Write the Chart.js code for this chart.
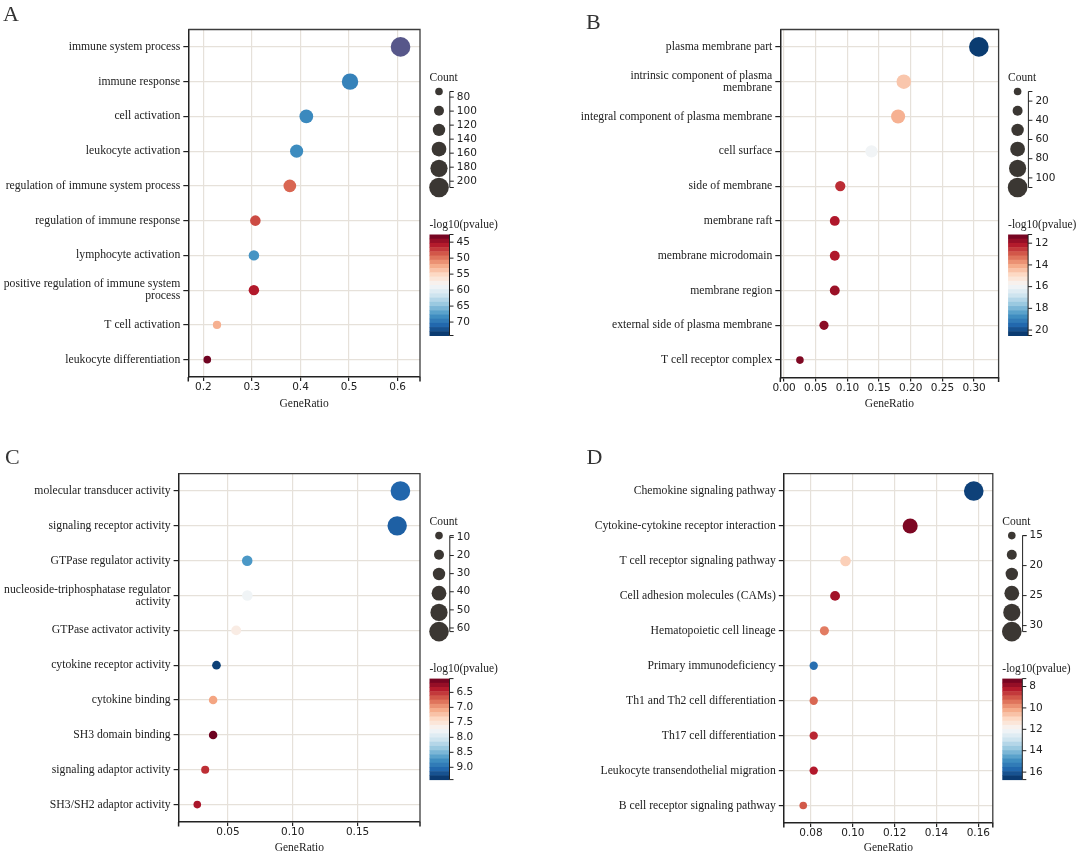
<!DOCTYPE html>
<html><head><meta charset="utf-8">
<script src="https://cdn.jsdelivr.net/npm/chart.js@4.4.0/dist/chart.umd.min.js"></script>
<style>
html,body{margin:0;padding:0;background:#fff;width:1080px;height:855px;overflow:hidden;position:relative}
.p{position:absolute;width:540px}
canvas{display:block}
</style></head><body>
<div class="p" style="left:0;top:0"><canvas id="cA" width="540" height="428"></canvas></div>
<div class="p" style="left:540px;top:0"><canvas id="cB" width="540" height="428"></canvas></div>
<div class="p" style="left:0;top:428px"><canvas id="cC" width="540" height="432"></canvas></div>
<div class="p" style="left:540px;top:428px"><canvas id="cD" width="540" height="432"></canvas></div>
<script>
// ---------------- DATA ----------------
// Panel A
const termsA = ['immune system process','immune response','cell activation','leukocyte activation','regulation of immune system process','regulation of immune response','lymphocyte activation',['positive regulation of immune system','process'],'T cell activation','leukocyte differentiation'];
const ratioA = [0.606,0.502,0.412,0.392,0.378,0.307,0.304,0.304,0.228,0.208];
const countA = [209,173,142,135,130,106,105,105,79,72];
const logpA  = [76.0,69.1,68.6,68.4,49.2,48.0,67.8,45.8,52.7,43.0];
const xTicksA = [0.2,0.3,0.4,0.5,0.6];
const xTickLabelsA = ['0.2','0.3','0.4','0.5','0.6'];
const countTicksA = [80,100,120,140,160,180,200];
const colorTicksA = [45,50,55,60,65,70];
const colorTickLabelsA = ['45','50','55','60','65','70'];

// Panel B
const termsB = ['plasma membrane part',['intrinsic component of plasma','membrane'],'integral component of plasma membrane','cell surface','side of membrane','membrane raft','membrane microdomain','membrane region','external side of plasma membrane','T cell receptor complex'];
const ratioB = [0.3075,0.189,0.180,0.138,0.0887,0.080,0.080,0.080,0.063,0.025];
const countB = [110,68,64,49,32,29,29,29,23,10];
const logpB  = [20.3,14.55,14.2,16.0,12.4,12.1,12.1,11.85,11.65,11.5];
const xTicksB = [0,0.05,0.10,0.15,0.20,0.25,0.30];
const xTickLabelsB = ['0.00','0.05','0.10','0.15','0.20','0.25','0.30'];
const countTicksB = [20,40,60,80,100];
const colorTicksB = [12,14,16,18,20];
const colorTickLabelsB = ['12','14','16','18','20'];

// Panel C
const termsC = ['molecular transducer activity','signaling receptor activity','GTPase regulator activity',['nucleoside-triphosphatase regulator','activity'],'GTPase activator activity','cytokine receptor activity','cytokine binding','SH3 domain binding','signaling adaptor activity','SH3/SH2 adaptor activity'];
const ratioC = [0.183,0.1805,0.0649,0.065,0.0564,0.0412,0.0386,0.0386,0.0325,0.0264];
const countC = [62,61,22,22,19,14,13,13,11,9];
const logpC  = [9.07,9.11,8.70,7.79,7.59,9.31,7.05,6.07,6.48,6.34];
const xTicksC = [0.05,0.10,0.15];
const xTickLabelsC = ['0.05','0.10','0.15'];
const countTicksC = [10,20,30,40,50,60];
const colorTicksC = [6.5,7.0,7.5,8.0,8.5,9.0];
const colorTickLabelsC = ['6.5','7.0','7.5','8.0','8.5','9.0'];

// Panel D
const termsD = ['Chemokine signaling pathway','Cytokine-cytokine receptor interaction','T cell receptor signaling pathway','Cell adhesion molecules (CAMs)','Hematopoietic cell lineage','Primary immunodeficiency','Th1 and Th2 cell differentiation','Th17 cell differentiation','Leukocyte transendothelial migration','B cell receptor signaling pathway'];
const ratioD = [0.1578,0.1274,0.0965,0.0915,0.0864,0.0813,0.0813,0.0813,0.0813,0.0763];
const countD = [31,25,19,18,17,16,16,16,16,15];
const logpD  = [16.4,7.54,10.85,8.0,9.53,15.57,9.24,8.39,8.2,9.05];
const xTicksD = [0.08,0.10,0.12,0.14,0.16];
const xTickLabelsD = ['0.08','0.10','0.12','0.14','0.16'];
const countTicksD = [15,20,25,30];
const colorTicksD = [8,10,12,14,16];
const colorTickLabelsD = ['8','10','12','14','16'];

// ---------------- COLOUR / SIZE SCALES ----------------
const RDBU = ['#67001f','#b2182b','#d6604d','#f4a582','#fddbc7','#f7f7f7','#d1e5f0','#92c5de','#4393c3','#2166ac','#053061'];
function hx(h){return [parseInt(h.substr(1,2),16),parseInt(h.substr(3,2),16),parseInt(h.substr(5,2),16)];}
function rdbu(t){
  t=Math.max(0,Math.min(1,t));
  const s=t*10, i=Math.min(9,Math.floor(s)), f=s-i;
  const a=hx(RDBU[i]), b=hx(RDBU[i+1]);
  const c=a.map((v,k)=>Math.round(v+(b[k]-v)*f));
  return 'rgb('+c.join(',')+')';
}
const R_MIN=3.8, R_MAX=9.8;

const panels = {
  A:{id:'cA', letter:'A', terms:termsA, ratio:ratioA, count:countA, logp:logpA, xTicks:xTicksA, xTickLabels:xTickLabelsA,
     countTicks:countTicksA, colorTicks:colorTicksA, colorTickLabels:colorTickLabelsA,
     xRange:[0.1689,0.6461], countDomain:[72,209], colorDomain:[42.6,74.2], overColor:'#57578a'},
  B:{id:'cB', letter:'B', terms:termsB, ratio:ratioB, count:countB, logp:logpB, xTicks:xTicksB, xTickLabels:xTickLabelsB,
     countTicks:countTicksB, colorTicks:colorTicksB, colorTickLabels:colorTickLabelsB,
     xRange:[-0.006,0.3387], countDomain:[10,110], colorDomain:[11.2,20.5]},
  C:{id:'cC', letter:'C', terms:termsC, ratio:ratioC, count:countC, logp:logpC, xTicks:xTicksC, xTickLabels:xTickLabelsC,
     countTicks:countTicksC, colorTicks:colorTicksC, colorTickLabels:colorTickLabelsC,
     xRange:[0.012,0.1981], countDomain:[9,62], colorDomain:[6.04,9.41]},
  D:{id:'cD', letter:'D', terms:termsD, ratio:ratioD, count:countD, logp:logpD, xTicks:xTicksD, xTickLabels:xTickLabelsD,
     countTicks:countTicksD, colorTicks:colorTicksD, colorTickLabels:colorTickLabelsD,
     xRange:[0.067,0.1669], countDomain:[15,31], colorDomain:[7.26,16.7]}
};
// layout (canvas-relative pixels)
const LAYOUT = {
  A:{W:540,H:428,left:188.3,right:420,top:29.5,bottom:377,titleY:404,letterX:3,letterY:20.5},
  B:{W:540,H:428,left:240.3,right:458.6,top:29.5,bottom:377.5,titleY:404,letterX:46,letterY:28.5},
  C:{W:540,H:432,left:178.6,right:420,top:45.6,bottom:394,titleY:419.5,letterX:5,letterY:35.6},
  D:{W:540,H:432,left:243.8,right:452.8,top:45.6,bottom:395,titleY:419.5,letterX:46.6,letterY:35.6}
};

function sizeFor(c,P){const [a,b]=P.countDomain;return R_MIN+(c-a)/(b-a)*(R_MAX-R_MIN);}
function colorFor(v,P){const [a,b]=P.colorDomain; if(v>b && P.overColor) return P.overColor; return rdbu((v-a)/(b-a));}

const GRID='#e6e1da';
const SERIF='"Liberation Serif", "Times New Roman", serif';
const SANS='"DejaVu Sans", sans-serif';

function decor(P,L){
  return {id:'decor'+P.letter, afterDraw(chart){
    const ctx=chart.ctx, a=chart.chartArea;
    ctx.save();
    // top / right frame
    ctx.strokeStyle='#3c3c3c'; ctx.lineWidth=1.3;
    ctx.beginPath(); ctx.moveTo(a.left,a.top); ctx.lineTo(a.right,a.top); ctx.lineTo(a.right,a.bottom); ctx.stroke();
    // bottom axis end caps
    ctx.strokeStyle='#222'; ctx.lineWidth=1.5;
    [a.left,a.right].forEach(x=>{ctx.beginPath();ctx.moveTo(x,a.bottom);ctx.lineTo(x,a.bottom+4.5);ctx.stroke();});
    // panel letter
    ctx.fillStyle='#333'; ctx.font='22px '+SERIF; ctx.textAlign='left'; ctx.textBaseline='alphabetic';
    ctx.fillText(P.letter,L.letterX,L.letterY);

    // ---- Count legend ----
    const ax=a.right+29.8, cy0=a.top+62, cy1=a.top+158;
    const [cmin,cmax]=P.countDomain;
    const yC=c=>cy0+(c-cmin)/(cmax-cmin)*(cy1-cy0);
    ctx.fillStyle='#222'; ctx.font='11.5px '+SERIF; ctx.textBaseline='middle';
    ctx.fillText('Count',a.right+9.5,a.top+48);
    ctx.fillStyle='#3b3733';
    for(let i=0;i<6;i++){
      const c=cmin+i*(cmax-cmin)/5;
      ctx.beginPath(); ctx.arc(a.right+19,yC(c),sizeFor(c,P),0,Math.PI*2); ctx.fill();
    }
    ctx.strokeStyle='#222'; ctx.lineWidth=1;
    ctx.beginPath(); ctx.moveTo(ax+4,cy0); ctx.lineTo(ax,cy0); ctx.lineTo(ax,cy1); ctx.lineTo(ax+4,cy1); ctx.stroke();
    ctx.font='10.5px '+SANS; ctx.fillStyle='#222';
    P.countTicks.forEach(v=>{const y=yC(v); ctx.beginPath(); ctx.moveTo(ax,y); ctx.lineTo(ax+4,y); ctx.stroke(); ctx.fillText(String(v),ax+7,y);});

    // ---- Colour bar ----
    const bx0=a.right+9.5, bx1=a.right+29.5, by0=a.top+205, by1=a.top+306, N=24;
    ctx.font='11.5px '+SERIF; ctx.fillStyle='#222';
    ctx.fillText('-log10(pvalue)',bx0,a.top+195);
    for(let k=0;k<N;k++){
      ctx.fillStyle=rdbu((k+0.5)/N);
      const y0=by0+(by1-by0)*k/N, y1=by0+(by1-by0)*(k+1)/N;
      ctx.fillRect(bx0,y0,bx1-bx0,y1-y0+0.5);
    }
    const [vmin,vmax]=P.colorDomain;
    const yV=v=>by0+(v-vmin)/(vmax-vmin)*(by1-by0);
    ctx.strokeStyle='#222'; ctx.lineWidth=1;
    ctx.beginPath(); ctx.moveTo(bx1,by0); ctx.lineTo(bx1+4,by0); ctx.moveTo(bx1,by0); ctx.lineTo(bx1,by1); ctx.lineTo(bx1+4,by1); ctx.stroke();
    ctx.font='10.5px '+SANS; ctx.fillStyle='#222';
    P.colorTicks.forEach((v,i)=>{const y=yV(v); ctx.beginPath(); ctx.moveTo(bx1,y); ctx.lineTo(bx1+4,y); ctx.stroke(); ctx.fillText(P.colorTickLabels[i],bx1+7,y);});
    ctx.restore();
  }};
}

function build(key){
  const P=panels[key], L=LAYOUT[key];
  const data=P.terms.map((t,i)=>({x:P.ratio[i], y:i, r:sizeFor(P.count[i],P)}));
  const colors=P.logp.map(v=>colorFor(v,P));
  const titlePad=L.H-L.titleY-11.5*1.2/2;
  new Chart(document.getElementById(P.id),{
    type:'bubble',
    data:{labels:P.terms, datasets:[{data, backgroundColor:colors, borderWidth:0, hoverBorderWidth:0, hoverRadius:0, clip:false}]},
    options:{
      responsive:false, animation:false, devicePixelRatio:1, events:[],
      layout:{padding:{left:0,top:L.top,right:L.W-L.right,bottom:0}},
      plugins:{legend:{display:false}, tooltip:{enabled:false}},
      scales:{
        x:{type:'linear', position:'bottom', min:P.xRange[0], max:P.xRange[1],
           afterBuildTicks:s=>{s.ticks=P.xTicks.map(v=>({value:v}));},
           ticks:{callback:(v,i)=>P.xTickLabels[i], font:{family:SANS,size:10.5}, color:'#222', padding:0, maxRotation:0, autoSkip:false},
           grid:{color:GRID, lineWidth:1.2, tickColor:'#222', tickLength:4, tickWidth:1.2},
           border:{color:'#222', width:1.5},
           title:{display:true, text:'GeneRatio', font:{family:SERIF,size:11.5}, color:'#222', padding:{top:0,bottom:titlePad}},
           afterFit:s=>{s.height=L.H-L.bottom; s.paddingLeft=0; s.paddingRight=0;}},
        y:{type:'category', labels:P.terms, offset:true,
           ticks:{font:{family:SERIF,size:11.7,lineHeight:1.02}, color:'#222', padding:3, autoSkip:false},
           grid:{color:GRID, lineWidth:1.2, tickColor:'#222', tickLength:5, tickWidth:1.2},
           border:{color:'#222', width:1.5},
           afterFit:s=>{s.width=L.left; s.paddingTop=0; s.paddingBottom=0;}}
      }
    },
    plugins:[decor(P,L)]
  });
}
['A','B','C','D'].forEach(build);
</script>
</body></html>
